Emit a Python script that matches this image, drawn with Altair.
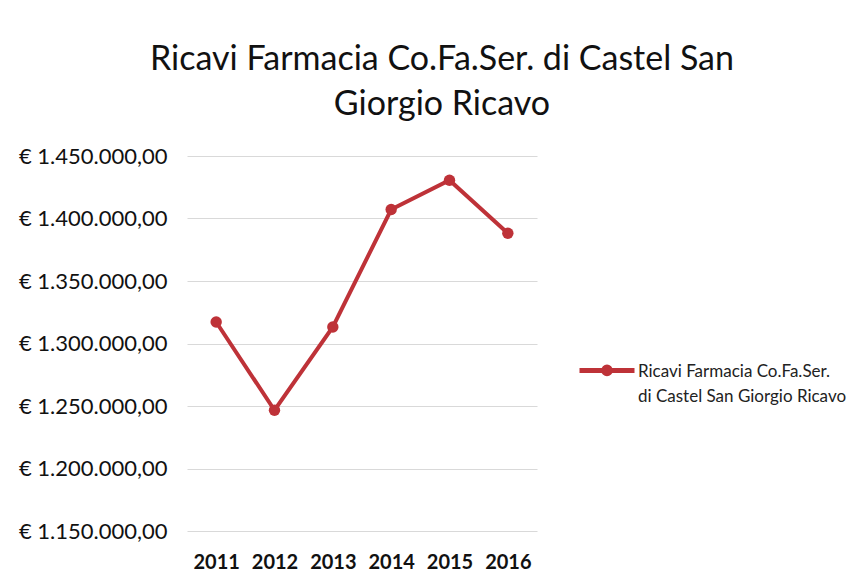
import altair as alt
import pandas as pd

years = ["2011", "2012", "2013", "2014", "2015", "2016"]
ricavi = [1317200, 1246600, 1313200, 1407200, 1430600, 1388200]
series_name = "Ricavi Farmacia Co.Fa.Ser.\ndi Castel San Giorgio Ricavo"
title_lines = ["Ricavi Farmacia Co.Fa.Ser. di Castel San", "Giorgio Ricavo"]
y_ticks = [1150000, 1200000, 1250000, 1300000, 1350000, 1400000, 1450000]

df = pd.DataFrame({"anno": years, "ricavi": ricavi, "serie": [series_name] * len(years)})

RED = "#BE3238"
FONT = "Lato"

legend_symbol = ("M-1,-0.24L1,-0.24M0.12,-0.24A0.12,0.12,0,1,1,-0.12,-0.24"
                 "A0.12,0.12,0,1,1,0.12,-0.24Z")

chart = alt.Chart(df).mark_line(
    strokeWidth=4,
    point=alt.OverlayMarkDef(filled=True, size=130, color=RED),
).encode(
    x=alt.X("anno:N", title=None, sort=years,
            scale=alt.Scale(paddingInner=0, paddingOuter=0.5),
            axis=alt.Axis(labelAngle=0, domain=False, ticks=False, labelPadding=21,
                          labelFontSize=20, labelColor="#111", labelFont=FONT,
                          labelFontWeight="bold")),
    y=alt.Y("ricavi:Q", title=None,
            scale=alt.Scale(domain=[1150000, 1450000], nice=False, zero=False),
            axis=alt.Axis(values=y_ticks, format="$,.2f", domain=False, ticks=False,
                          labelPadding=20, labelFontSize=22, labelColor="#111",
                          labelFont=FONT, gridColor="#D9D9D9", gridWidth=1)),
    color=alt.Color("serie:N", scale=alt.Scale(range=[RED]),
                    legend=alt.Legend(title=None, orient="none", legendX=390, legendY=191,
                                      symbolType=legend_symbol, symbolSize=3025,
                                      symbolStrokeWidth=5, symbolFillColor=RED,
                                      symbolStrokeColor=RED,
                                      labelExpr="split(datum.label, '\\n')",
                                      labelBaseline="alphabetic",
                                      labelFontSize=17, labelFont=FONT, labelColor="#222",
                                      labelLimit=300, labelOffset=1)),
).properties(
    width=350,
    height=375,
    title=alt.TitleParams(title_lines, fontSize=34, font=FONT, fontWeight="normal",
                          color="#111", anchor="middle", dx=80, offset=23,
                          lineHeight=45),
    autosize=alt.AutoSizeParams(type="none"),
    padding={"left": 179, "top": 148, "right": 322, "bottom": 46},
).configure(
    locale={"number": {"decimal": ",", "thousands": ".", "grouping": [3],
                       "currency": ["€ ", ""]}},
    style={"guide-label": {"lineHeight": 25}},
).configure_view(stroke=None)

chart.save("out.html", embed_options={"renderer": "svg", "actions": False})
